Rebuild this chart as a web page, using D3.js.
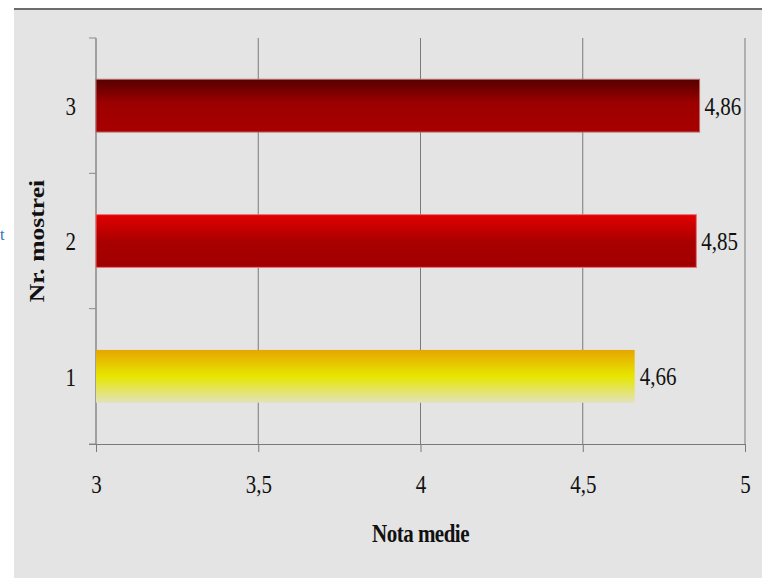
<!DOCTYPE html>
<html>
<head>
<meta charset="utf-8">
<script src="https://cdn.jsdelivr.net/npm/d3@7"></script>
<style>
  body { margin: 0; background: #fff; }
  text { font-family: "Liberation Serif", "Times New Roman", serif; fill: #111; }
</style>
</head>
<body>
<div id="chart"></div>
<script>
// data
var samples = ["3", "2", "1"];          // top to bottom
var means = [4.86, 4.85, 4.66];
var meanLabels = ["4,86", "4,85", "4,66"];
var xTicks = [3, 3.5, 4, 4.5, 5];
var xTitle = "Nota medie";
var yTitle = "Nr. mostrei";

// bar fills, per sample
var fills = {
  "3": [["0%", "#560000"], ["45%", "#9c0000"], ["100%", "#a80000"]],
  "2": [["0%", "#e20000"], ["50%", "#aa0000"], ["100%", "#a00000"]],
  "1": [["0%", "#e6a600"], ["50%", "#e6e600"], ["100%", "#e2e2bc"]]
};
var strokes = {"3": "#b86a6a", "2": "#ee7070", "1": "none"};

var W = 762, H = 578;
var sy = 1.22; // the picture is squeezed wider than tall, so text is stretched

var svg = d3.select("#chart")
  .append("svg")
    .attr("width", W)
    .attr("height", H);

// grey panel and its dark top line
svg.append("rect")
  .attr("x", 14).attr("y", 9)
  .attr("width", W - 14).attr("height", H - 9)
  .attr("fill", "#e4e4e4");
svg.append("line")
  .attr("x1", 14).attr("x2", W)
  .attr("y1", 9).attr("y2", 9)
  .attr("stroke", "#6c6c6c").attr("stroke-width", 2);

// stray blue letter at the left edge
svg.append("text")
  .attr("x", 0).attr("y", 240)
  .style("font-size", "16px")
  .style("fill", "#2f6fc4")
  .text("t");

var plotLeft = 96, plotRight = 745, plotTop = 38, plotBottom = 444;

var x = d3.scaleLinear()
  .domain([3, 5])
  .range([plotLeft, plotRight]);

var y = d3.scaleBand()
  .domain(samples)
  .range([plotTop, plotBottom])
  .paddingInner(0.61)
  .paddingOuter(0.305);

var defs = svg.append("defs");
samples.forEach(function(s) {
  var g = defs.append("linearGradient")
    .attr("id", "fill" + s)
    .attr("x1", 0).attr("y1", 0).attr("x2", 0).attr("y2", 1);
  fills[s].forEach(function(st) {
    g.append("stop").attr("offset", st[0]).attr("stop-color", st[1]);
  });
});

// vertical grid lines
svg.append("g")
  .selectAll("line")
  .data(xTicks.slice(1))
  .enter()
  .append("line")
    .attr("x1", function(d) { return x(d); })
    .attr("x2", function(d) { return x(d); })
    .attr("y1", plotTop).attr("y2", plotBottom)
    .attr("stroke", "#7a7a7a")
    .attr("stroke-width", 1);

// x axis
var xAxis = svg.append("g")
  .attr("transform", "translate(0," + plotBottom + ")")
  .call(d3.axisBottom(x)
    .tickValues(xTicks)
    .tickSize(8)
    .tickSizeOuter(0)
    .tickFormat(function(d) { return String(d).replace(".", ","); }));
xAxis.select(".domain").attr("stroke", "#7a7a7a").attr("d", "M" + (plotLeft - 7) + ",0.5H" + plotRight);
xAxis.selectAll(".tick line").attr("stroke", "#7a7a7a");
xAxis.selectAll(".tick text")
  .attr("y", 49 / sy)
  .attr("dy", null)
  .attr("transform", "scale(1," + sy + ")")
  .style("font-size", "21px")
  .style("fill", "#111");

// y axis: labels at band centres, ticks at band edges
var yAxis = svg.append("g")
  .attr("transform", "translate(" + plotLeft + ",0)")
  .call(d3.axisLeft(y).tickSize(0).tickPadding(20));
yAxis.select(".domain").attr("stroke", "#a0a0a0").attr("stroke-width", 2)
  .attr("d", "M0," + plotTop + "V" + plotBottom);
yAxis.selectAll(".tick text")
  .attr("y", 0)
  .attr("dy", "0.36em")
  .style("font-size", "21px")
  .style("fill", "#111");
yAxis.selectAll(".tick").each(function() {
  var t = d3.select(this);
  t.attr("transform", t.attr("transform") + " scale(1," + sy + ")");
});

var edges = samples.map(function(s) { return y(s) - y.step() * y.paddingInner() / 2; });
edges.push(plotBottom);
yAxis.append("g")
  .selectAll("line")
  .data(edges)
  .enter()
  .append("line")
    .attr("x1", -7).attr("x2", 0)
    .attr("y1", function(d) { return d; })
    .attr("y2", function(d) { return d; })
    .attr("stroke", "#8a8a8a");

// bars
svg.append("g")
  .selectAll("rect")
  .data(samples)
  .enter()
  .append("rect")
    .attr("x", x(3))
    .attr("y", function(d) { return y(d); })
    .attr("width", function(d, i) { return x(means[i]) - x(3); })
    .attr("height", y.bandwidth())
    .attr("fill", function(d) { return "url(#fill" + d + ")"; })
    .attr("stroke", function(d) { return strokes[d]; })
    .attr("stroke-width", 1);

// value labels
svg.append("g")
  .selectAll("text")
  .data(samples)
  .enter()
  .append("text")
    .attr("transform", function(d, i) {
      return "translate(" + (x(means[i]) + 5) + "," + (y(d) + y.bandwidth() / 2 + 9) + ") scale(1," + sy + ")";
    })
    .style("font-size", "21px")
    .text(function(d, i) { return meanLabels[i]; });

// axis titles
svg.append("text")
  .attr("transform", "translate(" + ((plotLeft + plotRight) / 2) + ",542) scale(1," + sy + ")")
  .attr("text-anchor", "middle")
  .style("font-size", "21px")
  .style("font-weight", "bold")
  .style("letter-spacing", "-0.5px")
  .text(xTitle);

svg.append("text")
  .attr("transform", "translate(44," + ((plotTop + plotBottom) / 2) + ") scale(1," + sy + ") rotate(-90)")
  .attr("text-anchor", "middle")
  .style("font-size", "21px")
  .style("font-weight", "bold")
  .text(yTitle);
</script>
</body>
</html>
